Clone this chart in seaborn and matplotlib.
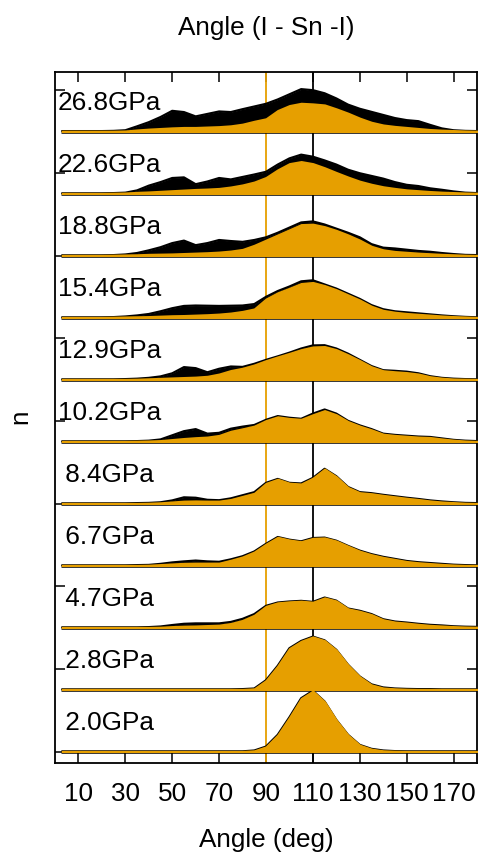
import numpy as np
import pandas as pd
import matplotlib
matplotlib.use("Agg")
import matplotlib.pyplot as plt
import seaborn as sns

# ---------------- data ----------------
ANGLES = [3, 5, 10, 15, 20, 25, 30, 35, 40, 45, 50, 55, 60, 65, 70, 75, 80, 85, 90,
          95, 100, 105, 110, 115, 120, 125, 130, 135, 140, 145, 150, 155, 160, 165,
          170, 175, 180]

PRESSURES = ["26.8GPa", "22.6GPa", "18.8GPa", "15.4GPa", "12.9GPa", "10.2GPa",
             " 8.4GPa", " 6.7GPa", " 4.7GPa", " 2.8GPa", " 2.0GPa"]

# total distribution (black)
TOTAL = {
    "26.8GPa": [0.02, 0.02, 0.02, 0.02, 0.02, 0.03, 0.06, 0.25, 0.45, 0.70, 1.00, 0.94, 0.73, 0.85, 0.97, 0.94, 1.08, 1.21, 1.34, 1.55, 1.80, 2.05, 2.00, 1.85, 1.60, 1.30, 1.10, 0.95, 0.80, 0.65, 0.55, 0.50, 0.32, 0.15, 0.06, 0.03, 0.02],
    "22.6GPa": [0.01, 0.01, 0.01, 0.01, 0.01, 0.02, 0.04, 0.15, 0.38, 0.55, 0.75, 0.78, 0.45, 0.58, 0.75, 0.68, 0.80, 0.92, 1.05, 1.40, 1.70, 1.88, 1.78, 1.60, 1.40, 1.15, 0.98, 0.85, 0.72, 0.55, 0.42, 0.36, 0.25, 0.18, 0.10, 0.04, 0.02],
    "18.8GPa": [0.01, 0.01, 0.01, 0.01, 0.01, 0.02, 0.05, 0.12, 0.25, 0.40, 0.60, 0.72, 0.50, 0.60, 0.75, 0.70, 0.66, 0.75, 0.88, 1.10, 1.35, 1.60, 1.65, 1.50, 1.30, 1.10, 0.88, 0.55, 0.38, 0.34, 0.28, 0.22, 0.18, 0.12, 0.07, 0.03, 0.02],
    "15.4GPa": [0.01, 0.01, 0.01, 0.01, 0.01, 0.02, 0.05, 0.10, 0.17, 0.30, 0.45, 0.56, 0.58, 0.57, 0.56, 0.57, 0.58, 0.65, 1.00, 1.28, 1.50, 1.75, 1.80, 1.60, 1.40, 1.15, 0.90, 0.60, 0.40, 0.30, 0.25, 0.20, 0.15, 0.10, 0.06, 0.03, 0.01],
    "12.9GPa": [0.01, 0.01, 0.01, 0.01, 0.01, 0.01, 0.02, 0.04, 0.08, 0.15, 0.30, 0.60, 0.55, 0.35, 0.52, 0.63, 0.61, 0.76, 0.95, 1.12, 1.30, 1.50, 1.65, 1.66, 1.50, 1.25, 0.95, 0.65, 0.45, 0.42, 0.38, 0.30, 0.16, 0.08, 0.04, 0.02, 0.01],
    "10.2GPa": [0.01, 0.01, 0.01, 0.01, 0.01, 0.01, 0.01, 0.02, 0.04, 0.10, 0.30, 0.50, 0.60, 0.38, 0.42, 0.62, 0.72, 0.80, 1.05, 1.23, 1.15, 1.10, 1.35, 1.55, 1.35, 1.00, 0.78, 0.60, 0.38, 0.32, 0.28, 0.24, 0.22, 0.15, 0.08, 0.04, 0.02],
    " 8.4GPa": [0.01, 0.01, 0.01, 0.01, 0.01, 0.01, 0.01, 0.02, 0.03, 0.06, 0.15, 0.30, 0.28, 0.18, 0.16, 0.25, 0.40, 0.55, 1.00, 1.19, 1.00, 0.97, 1.24, 1.68, 1.32, 0.80, 0.55, 0.50, 0.42, 0.35, 0.28, 0.22, 0.15, 0.10, 0.06, 0.03, 0.02],
    " 6.7GPa": [0.01, 0.01, 0.01, 0.01, 0.01, 0.01, 0.01, 0.02, 0.03, 0.08, 0.15, 0.20, 0.24, 0.20, 0.18, 0.30, 0.45, 0.68, 1.05, 1.38, 1.25, 1.17, 1.33, 1.35, 1.20, 0.95, 0.72, 0.55, 0.42, 0.32, 0.22, 0.16, 0.12, 0.08, 0.04, 0.02, 0.01],
    " 4.7GPa": [0.01, 0.01, 0.01, 0.01, 0.01, 0.01, 0.01, 0.01, 0.02, 0.05, 0.12, 0.18, 0.20, 0.20, 0.20, 0.27, 0.42, 0.65, 1.05, 1.21, 1.26, 1.29, 1.24, 1.45, 1.30, 0.92, 0.81, 0.65, 0.40, 0.29, 0.24, 0.18, 0.13, 0.10, 0.06, 0.04, 0.03],
    " 2.8GPa": [0.01, 0.01, 0.01, 0.01, 0.01, 0.01, 0.01, 0.01, 0.01, 0.01, 0.01, 0.01, 0.01, 0.01, 0.01, 0.01, 0.02, 0.05, 0.45, 1.15, 2.00, 2.35, 2.56, 2.38, 1.92, 1.20, 0.63, 0.25, 0.10, 0.05, 0.03, 0.02, 0.02, 0.01, 0.01, 0.01, 0.01],
    " 2.0GPa": [0.01, 0.01, 0.01, 0.01, 0.01, 0.01, 0.01, 0.01, 0.01, 0.01, 0.01, 0.01, 0.01, 0.01, 0.01, 0.01, 0.01, 0.05, 0.24, 0.81, 1.66, 2.58, 2.94, 2.42, 1.53, 0.81, 0.32, 0.13, 0.05, 0.02, 0.01, 0.01, 0.01, 0.01, 0.01, 0.01, 0.01],
}

# sub-distribution (orange)
PART = {
    "26.8GPa": [0.02, 0.02, 0.02, 0.02, 0.02, 0.02, 0.03, 0.08, 0.12, 0.15, 0.18, 0.20, 0.20, 0.22, 0.24, 0.28, 0.36, 0.50, 0.62, 1.02, 1.26, 1.37, 1.34, 1.29, 1.10, 0.89, 0.65, 0.45, 0.32, 0.25, 0.20, 0.15, 0.10, 0.07, 0.05, 0.03, 0.02],
    "22.6GPa": [0.01, 0.01, 0.01, 0.01, 0.01, 0.02, 0.03, 0.06, 0.08, 0.11, 0.14, 0.17, 0.20, 0.22, 0.25, 0.32, 0.42, 0.56, 0.78, 1.15, 1.45, 1.55, 1.45, 1.25, 1.02, 0.80, 0.60, 0.45, 0.33, 0.25, 0.18, 0.14, 0.10, 0.07, 0.05, 0.03, 0.02],
    "18.8GPa": [0.01, 0.01, 0.01, 0.01, 0.01, 0.02, 0.03, 0.04, 0.06, 0.07, 0.08, 0.10, 0.12, 0.14, 0.17, 0.22, 0.30, 0.50, 0.75, 1.00, 1.25, 1.50, 1.52, 1.40, 1.22, 1.00, 0.75, 0.45, 0.28, 0.20, 0.16, 0.12, 0.09, 0.06, 0.04, 0.02, 0.01],
    "15.4GPa": [0.01, 0.01, 0.01, 0.01, 0.01, 0.02, 0.03, 0.04, 0.05, 0.07, 0.09, 0.10, 0.12, 0.14, 0.17, 0.22, 0.30, 0.42, 0.90, 1.20, 1.42, 1.65, 1.70, 1.55, 1.35, 1.10, 0.85, 0.55, 0.35, 0.26, 0.20, 0.16, 0.12, 0.08, 0.05, 0.03, 0.01],
    "12.9GPa": [0.01, 0.01, 0.01, 0.01, 0.01, 0.01, 0.01, 0.02, 0.04, 0.06, 0.08, 0.10, 0.12, 0.16, 0.27, 0.44, 0.55, 0.71, 0.92, 1.10, 1.27, 1.45, 1.58, 1.60, 1.45, 1.20, 0.92, 0.62, 0.43, 0.38, 0.34, 0.27, 0.14, 0.07, 0.03, 0.02, 0.01],
    "10.2GPa": [0.01, 0.01, 0.01, 0.01, 0.01, 0.01, 0.01, 0.02, 0.03, 0.05, 0.10, 0.15, 0.19, 0.22, 0.30, 0.50, 0.62, 0.75, 1.02, 1.20, 1.12, 1.08, 1.30, 1.50, 1.30, 0.97, 0.75, 0.57, 0.36, 0.30, 0.26, 0.22, 0.20, 0.13, 0.07, 0.03, 0.01],
    " 8.4GPa": [0.01, 0.01, 0.01, 0.01, 0.01, 0.01, 0.01, 0.01, 0.02, 0.04, 0.08, 0.12, 0.13, 0.12, 0.12, 0.20, 0.35, 0.50, 0.98, 1.18, 0.99, 0.95, 1.23, 1.67, 1.30, 0.78, 0.53, 0.48, 0.40, 0.33, 0.26, 0.20, 0.13, 0.08, 0.05, 0.02, 0.01],
    " 6.7GPa": [0.01, 0.01, 0.01, 0.01, 0.01, 0.01, 0.01, 0.01, 0.02, 0.05, 0.08, 0.11, 0.12, 0.12, 0.12, 0.26, 0.42, 0.66, 1.04, 1.37, 1.24, 1.16, 1.32, 1.34, 1.19, 0.94, 0.70, 0.53, 0.40, 0.30, 0.20, 0.14, 0.10, 0.06, 0.03, 0.01, 0.01],
    " 4.7GPa": [0.01, 0.01, 0.01, 0.01, 0.01, 0.01, 0.01, 0.01, 0.01, 0.02, 0.05, 0.07, 0.08, 0.10, 0.12, 0.20, 0.35, 0.60, 1.03, 1.20, 1.25, 1.28, 1.23, 1.44, 1.29, 0.91, 0.79, 0.63, 0.38, 0.27, 0.22, 0.16, 0.11, 0.08, 0.05, 0.03, 0.02],
    " 2.8GPa": [0.01, 0.01, 0.01, 0.01, 0.01, 0.01, 0.01, 0.01, 0.01, 0.01, 0.01, 0.01, 0.01, 0.01, 0.01, 0.01, 0.01, 0.04, 0.44, 1.14, 1.99, 2.34, 2.55, 2.37, 1.91, 1.19, 0.62, 0.23, 0.08, 0.04, 0.02, 0.01, 0.01, 0.01, 0.01, 0.01, 0.01],
    " 2.0GPa": [0.01, 0.01, 0.01, 0.01, 0.01, 0.01, 0.01, 0.01, 0.01, 0.01, 0.01, 0.01, 0.01, 0.01, 0.01, 0.01, 0.01, 0.04, 0.23, 0.80, 1.65, 2.57, 2.93, 2.41, 1.52, 0.80, 0.31, 0.12, 0.04, 0.02, 0.01, 0.01, 0.01, 0.01, 0.01, 0.01, 0.01],
}

X_TICKS = [10, 30, 50, 70, 90, 110, 130, 150, 170]
REF_ORANGE = 90
REF_BLACK = 110

# ---------------- style ----------------
ORANGE = "#E69F00"
sns.set_theme(style="ticks")
plt.rcParams["font.family"] = ["Liberation Sans", "DejaVu Sans"]
plt.rcParams["text.color"] = "black"
plt.rcParams["axes.labelcolor"] = "black"
plt.rcParams["xtick.color"] = "black"
plt.rcParams["ytick.color"] = "black"
FS = 18.8

fig = plt.figure(figsize=(4.82, 8.52), dpi=100)
ax = fig.add_axes([55 / 482, 1 - 762.5 / 852, (477 - 55) / 482, (762.5 - 72) / 852])

STEP = 3.0
n = len(PRESSURES)
ax.axvline(REF_ORANGE, color=ORANGE, lw=1.3, zorder=1)
ax.axvline(REF_BLACK, color="black", lw=1.3, zorder=1)

for i, name in enumerate(PRESSURES):
    off = (n - 1 - i) * STEP
    x = np.array(ANGLES, dtype=float)
    tot = off + np.array(TOTAL[name])
    part = off + np.array(PART[name])
    ax.fill_between(x, off, tot, color="black", lw=0, zorder=2)
    sns.lineplot(x=x, y=tot, color="black", lw=1.6, ax=ax, zorder=2.2,
                 estimator=None, sort=False)
    ax.plot([x[0], x[-1]], [off - 0.05, off - 0.05], color="black", lw=1.1, zorder=2.3)
    ax.fill_between(x, off, part, facecolor=ORANGE, edgecolor=ORANGE, lw=1.4, zorder=3)
    ax.text(1.2, off + 1.37, name, fontsize=FS, color="black", ha="left",
            va="center", zorder=5)

ax.set_xlim(0, 180)
ax.set_ylim(-0.53, 32.88)
ax.set_xticks(X_TICKS)
ax.set_xticklabels([str(t) for t in X_TICKS])
ax.set_yticks(np.arange(0, 33, 4))
ax.set_yticklabels([])
ax.tick_params(axis="x", direction="in", length=7.5, width=1.1, top=True,
               bottom=True, labelsize=FS, pad=14, colors="black")
ax.tick_params(axis="y", direction="in", length=7.5, width=1.1, left=True,
               right=True, colors="black")
for sp in ax.spines.values():
    sp.set_visible(True)
    sp.set_color("black")
    sp.set_linewidth(1.3)
ax.set_xlabel("")
ax.set_ylabel("")
ax.grid(False)

fig.text(266 / 482, 1 - 28 / 852, "Angle (I - Sn -I)", fontsize=FS, color="black",
         ha="center", va="center")
fig.text(266 / 482, 1 - 840 / 852, "Angle (deg)", fontsize=FS, color="black",
         ha="center", va="center")
fig.text(20 / 482, 1 - 417 / 852, "n", fontsize=FS, color="black", ha="center",
         va="center", rotation=90)

fig.savefig("out.png", dpi=100)
